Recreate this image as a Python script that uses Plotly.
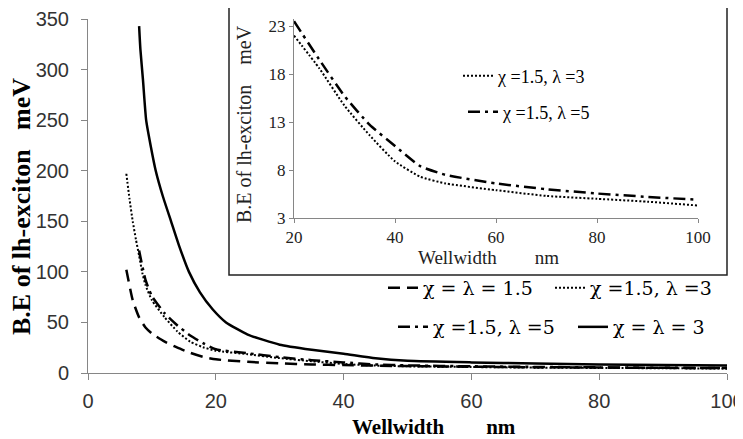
import plotly.graph_objects as go

# ---- data ----
dashed_x = [6, 7, 8, 9, 10, 12, 14, 16, 18, 20, 25, 30, 35, 40, 50, 60, 70, 80, 90, 100]
dashed_y = [102, 72, 55, 45, 39, 31, 25, 20, 16, 13.5, 11, 9.5, 8.5, 7.8, 6.8, 6.2, 5.7, 5.4, 5.1, 4.9]

dotted_x = [6, 6.5, 7, 7.5, 8, 8.5, 9, 10, 12, 14, 16, 18, 20, 25, 30, 35, 40, 45, 50, 60, 70, 80, 90, 100]
dotted_y = [197, 172, 150, 132, 116, 99, 87, 72, 55, 41, 31, 25.5, 22, 18.6, 14.7, 11.6, 8.9, 7.3, 6.6, 5.9, 5.3, 5.0, 4.7, 4.3]

dashdot_x = [8, 9, 10, 12, 14, 16, 18, 20, 25, 30, 35, 40, 45, 50, 60, 70, 80, 90, 100]
dashdot_y = [121, 92, 76, 59, 47, 37, 29.5, 23.5, 19.5, 15.7, 12.7, 10.5, 8.4, 7.5, 6.6, 6.0, 5.55, 5.2, 4.9]

solid_x = [8, 8.2, 8.6, 9.1, 9.8, 10.6, 11.7, 13, 14.3, 15.8, 17.5, 19.5, 21.6, 25, 30, 35, 40, 45, 50, 60, 70, 80, 90, 100]
solid_y = [343, 320, 290, 250, 225, 200, 175, 150, 125, 100, 80, 63, 50, 38, 28, 23, 19, 14.5, 12, 10.5, 9.5, 8.5, 8, 7.5]

names = ["χ = λ = 1.5", "χ =1.5, λ =3", "χ =1.5, λ =5", "χ = λ = 3"]

main_xticks = [0, 20, 40, 60, 80, 100]
main_yticks = [0, 50, 100, 150, 200, 250, 300, 350]
inset_xticks = [20, 40, 60, 80, 100]
inset_yticks = [3, 8, 13, 18, 23]
inset_min_x = 20

def inset_part(xs, ys):
    pairs = [(a, b) for a, b in zip(xs, ys) if a >= inset_min_x]
    return [p[0] for p in pairs], [p[1] for p in pairs]

SERIF = "Liberation Serif"
WSERIF = "DejaVu Serif"
SANS = "Liberation Sans"
AX = "#868686"
NB = "\u00a0"

DASH = "12px,7px"
DOT = "2px,2px"
DASHDOT = "12px,5px,3px,5px"

fig = go.Figure()
fig.add_trace(go.Scatter(x=dashed_x, y=dashed_y, mode="lines", name=names[0],
                         line=dict(color="black", width=2.5, dash=DASH, shape="spline", smoothing=0.5),
                         legend="legend", showlegend=True))
fig.add_trace(go.Scatter(x=dotted_x, y=dotted_y, mode="lines", name=names[1],
                         line=dict(color="black", width=2, dash=DOT, shape="spline", smoothing=0.5),
                         legend="legend2", showlegend=True))
fig.add_trace(go.Scatter(x=dashdot_x, y=dashdot_y, mode="lines", name=names[2],
                         line=dict(color="black", width=2.5, dash=DASHDOT, shape="spline", smoothing=0.5),
                         legend="legend3", showlegend=True))
fig.add_trace(go.Scatter(x=solid_x, y=solid_y, mode="lines", name=names[3],
                         line=dict(color="black", width=2.5, shape="spline", smoothing=0.5),
                         legend="legend4", showlegend=True))

ix, iy = inset_part(dotted_x, dotted_y)
fig.add_trace(go.Scatter(x=ix, y=iy, mode="lines", name=names[1], xaxis="x2", yaxis="y2",
                         line=dict(color="black", width=2, dash=DOT, shape="spline", smoothing=0.5),
                         legend="legend5", showlegend=True))
ix, iy = inset_part(dashdot_x, dashdot_y)
fig.add_trace(go.Scatter(x=ix, y=iy, mode="lines", name=names[2], xaxis="x2", yaxis="y2",
                         line=dict(color="black", width=2.5, dash=DASHDOT, shape="spline", smoothing=0.5),
                         legend="legend6", showlegend=True))

# the page body adds an 8px offset; positions below are given in screenshot pixels
OFF = 8
W, H = 743 - OFF, 439 - OFF
PL, PR, PT, PB = 88, 727, 19, 373          # plot area in screenshot pixels
ml, mr, mt, mb = PL - OFF, W - (PR - OFF), PT - OFF, H - (PB - OFF)
pw, ph = PR - PL, PB - PT

def px2x(p):
    return (p - PL) / pw

def px2y(p):
    return (PB - p) / ph

def leg(text_x, center_y, family, size):
    return dict(x=px2x(text_x - 45), y=px2y(center_y), xanchor="left", yanchor="middle",
                bgcolor="rgba(0,0,0,0)", borderwidth=0, visible=True,
                font=dict(family=family, size=size, color="black"))

fig.update_layout(
    width=W, height=H, showlegend=True,
    margin=dict(l=ml, r=mr, t=mt, b=mb, autoexpand=False),
    paper_bgcolor="white", plot_bgcolor="white",
    xaxis=dict(range=[0, 100], tickvals=main_xticks, showgrid=False, zeroline=False,
               showline=True, linecolor=AX, ticks="outside", tickcolor=AX, ticklen=6,
               ticklabeloverflow="allow", ticklabelstandoff=4,
               tickfont=dict(family=SANS, size=20, color="#333")),
    yaxis=dict(range=[0, 350], tickvals=main_yticks, showgrid=False, zeroline=False,
               showline=True, linecolor=AX, ticks="outside", tickcolor=AX, ticklen=6,
               ticklabeloverflow="allow", ticklabelstandoff=8,
               tickfont=dict(family=SANS, size=20, color="#333")),
    xaxis2=dict(domain=[px2x(294), px2x(698)], anchor="y2", range=[20, 100], tickvals=inset_xticks,
                showgrid=False, zeroline=False, showline=True, linecolor=AX, ticks="outside",
                tickcolor=AX, ticklen=4, ticklabeloverflow="allow",
                tickfont=dict(family=SERIF, size=17, color="#222")),
    yaxis2=dict(domain=[px2y(218), 1.0], anchor="x2", range=[3, 3 + (218 - 19) / 9.6], tickvals=inset_yticks,
                showgrid=False, zeroline=False, showline=True, linecolor=AX, ticks="outside",
                tickcolor=AX, ticklen=4, ticklabeloverflow="allow",
                tickfont=dict(family=SERIF, size=17, color="#222")),
    legend=leg(428, 288, WSERIF, 19),
    legend2=leg(595, 288, WSERIF, 19),
    legend3=leg(438, 327, WSERIF, 19),
    legend4=leg(618, 327, WSERIF, 19),
    legend5=leg(503, 76, SERIF, 18),
    legend6=leg(508, 112, SERIF, 18),
    shapes=[dict(type="rect", xref="paper", yref="paper",
                 x0=px2x(229), x1=px2x(727), y0=px2y(275), y1=px2y(6),
                 line=dict(color="#222", width=1.5), fillcolor="white", layer="below")],
    annotations=[
        # main axis titles
        dict(text="<b>Wellwidth" + NB * 8 + "nm</b>", xref="paper", yref="paper",
             x=px2x(434), y=px2y(427), xanchor="center", yanchor="middle", showarrow=False,
             font=dict(family=SERIF, size=21, color="black")),
        dict(text="<b>B.E of lh-exciton" + NB * 3 + "meV</b>", xref="paper", yref="paper",
             x=px2x(21), y=px2y(207), xanchor="center", yanchor="middle", showarrow=False, textangle=-90,
             font=dict(family=SERIF, size=26, color="black")),
        # inset axis titles
        dict(text="Wellwidth" + NB * 8 + "nm", xref="paper", yref="paper",
             x=px2x(488), y=px2y(257), xanchor="center", yanchor="middle", showarrow=False,
             font=dict(family=SERIF, size=19, color="#222")),
        dict(text="B.E of lh-exciton" + NB * 4 + "meV", xref="paper", yref="paper",
             x=px2x(244), y=px2y(124), xanchor="center", yanchor="middle", showarrow=False, textangle=-90,
             font=dict(family=SERIF, size=20, color="#222")),
    ],
)

fig.write_html("out.html")
